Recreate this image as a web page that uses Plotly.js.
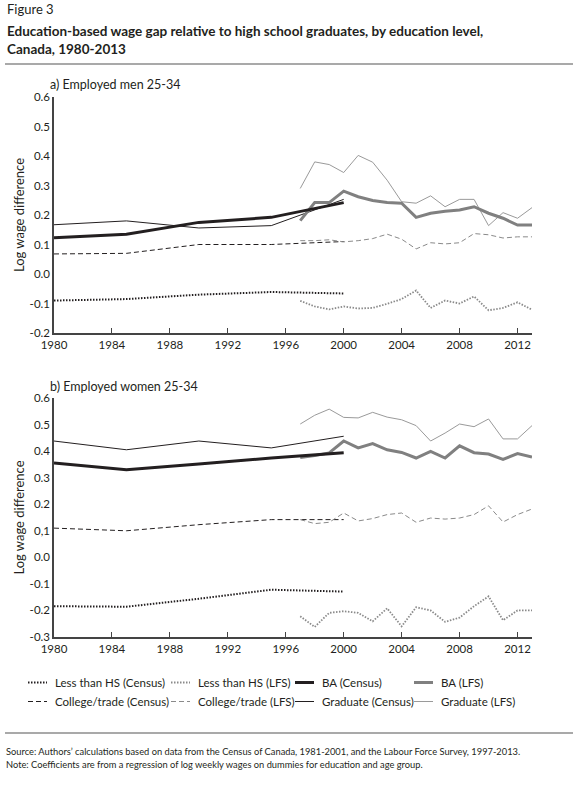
<!DOCTYPE html>
<html>
<head>
<meta charset="utf-8">
<script src="https://cdn.plot.ly/plotly-3.0.1.min.js"></script>
<style>
  html, body { margin: 0; padding: 0; background: #fff; }
  #graph { width: 586px; height: 785px; }
</style>
</head>
<body>
<div id="graph"></div>
<script>
// census years (income year) and LFS years
const censusYears = [1980, 1985, 1990, 1995, 2000];
const lfsYears = [1997, 1998, 1999, 2000, 2001, 2002, 2003, 2004, 2005,
                  2006, 2007, 2008, 2009, 2010, 2011, 2012, 2013];

// a) men 25-34
const menLhsCensus = [-0.090, -0.085, -0.070, -0.061, -0.066];
const menCollegeCensus = [0.068, 0.070, 0.100, 0.100, 0.110];
const menBaCensus = [0.123, 0.135, 0.175, 0.192, 0.242];
const menGradCensus = [0.167, 0.180, 0.156, 0.164, 0.253];
const menLhsLfs = [-0.091, -0.110, -0.120, -0.110, -0.117, -0.115, -0.101, -0.085, -0.056,
                   -0.115, -0.090, -0.100, -0.076, -0.123, -0.115, -0.096, -0.121];
const menCollegeLfs = [0.113, 0.113, 0.116, 0.109, 0.113, 0.120, 0.135, 0.118, 0.085,
                       0.106, 0.102, 0.106, 0.137, 0.133, 0.122, 0.126, 0.126];
const menBaLfs = [0.181, 0.242, 0.242, 0.281, 0.262, 0.249, 0.242, 0.240, 0.192,
                  0.206, 0.213, 0.217, 0.228, 0.206, 0.189, 0.166, 0.166];
const menGradLfs = [0.290, 0.380, 0.371, 0.344, 0.402, 0.379, 0.318, 0.245, 0.240,
                    0.265, 0.228, 0.253, 0.253, 0.164, 0.208, 0.189, 0.225];

// b) women 25-34
const womenLhsCensus = [-0.184, -0.186, -0.156, -0.122, -0.129];
const womenCollegeCensus = [0.110, 0.100, 0.123, 0.142, 0.142];
const womenBaCensus = [0.355, 0.330, 0.351, 0.374, 0.394];
const womenGradCensus = [0.438, 0.405, 0.438, 0.412, 0.456];
const womenLhsLfs = [-0.222, -0.262, -0.209, -0.203, -0.209, -0.241, -0.192, -0.260, -0.188,
                     -0.200, -0.243, -0.227, -0.184, -0.147, -0.237, -0.200, -0.200];
const womenCollegeLfs = [0.142, 0.127, 0.132, 0.167, 0.137, 0.146, 0.161, 0.167, 0.132,
                         0.148, 0.144, 0.148, 0.161, 0.194, 0.133, 0.161, 0.182];
const womenBaLfs = [0.376, 0.383, 0.393, 0.438, 0.412, 0.428, 0.405, 0.395, 0.374,
                    0.399, 0.374, 0.420, 0.394, 0.389, 0.369, 0.391, 0.378];
const womenGradLfs = [0.502, 0.535, 0.558, 0.527, 0.525, 0.546, 0.528, 0.518, 0.496,
                      0.438, 0.468, 0.502, 0.492, 0.521, 0.446, 0.446, 0.496];

const xTicks = [1980, 1984, 1988, 1992, 1996, 2000, 2004, 2008, 2012];
const menYTicks = [-0.2, -0.1, 0.0, 0.1, 0.2, 0.3, 0.4, 0.5, 0.6];
const menYLabels = ["-0.2", "-0.1", "0.0", "0.1", "0.2", "0.3", "0.4", "0.5", "0.6"];
const womenYTicks = [-0.3, -0.2, -0.1, 0.0, 0.1, 0.2, 0.3, 0.4, 0.5, 0.6];
const womenYLabels = ["-0.3", "-0.2", "-0.1", "0.0", "0,1", "0.2", "0.3", "0.4", "0.5", "0.6"];

const W = 586, H = 785;
const px = (x) => x / W;
const py = (y) => 1 - y / H;

const FONT = "Lato, 'Open Sans', sans-serif";
const TXT = "#231f20";

// series styles: name, line style, legend column
const styles = {
  lhsCensus: { name: "Less than HS (Census)", line: { color: "#231f20", width: 2, dash: "1.5px,1.5px" }, legend: "legend" },
  collegeCensus: { name: "College/trade (Census)", line: { color: "#231f20", width: 1, dash: "5px,3px" }, legend: "legend" },
  lhsLfs: { name: "Less than HS (LFS)", line: { color: "#8a8a8a", width: 1.8, dash: "1.5px,1.5px" }, legend: "legend2" },
  collegeLfs: { name: "College/trade (LFS)", line: { color: "#8a8a8a", width: 1, dash: "5px,3px" }, legend: "legend2" },
  baCensus: { name: "BA (Census)", line: { color: "#231f20", width: 3 }, legend: "legend3" },
  gradCensus: { name: "Graduate (Census)", line: { color: "#231f20", width: 1 }, legend: "legend3" },
  baLfs: { name: "BA (LFS)", line: { color: "#808080", width: 3 }, legend: "legend4" },
  gradLfs: { name: "Graduate (LFS)", line: { color: "#9a9a9a", width: 1 }, legend: "legend4" },
};

function mk(key, x, y, yaxis, showlegend) {
  const s = styles[key];
  return {
    type: "scatter", mode: "lines", x: x, y: y,
    name: s.name, line: s.line, legend: s.legend,
    xaxis: yaxis === "y" ? "x" : "x2", yaxis: yaxis,
    showlegend: showlegend, hoverinfo: "x+y+name",
  };
}

const traces = [
  mk("lhsCensus", censusYears, menLhsCensus, "y", true),
  mk("collegeCensus", censusYears, menCollegeCensus, "y", true),
  mk("lhsLfs", lfsYears, menLhsLfs, "y", true),
  mk("collegeLfs", lfsYears, menCollegeLfs, "y", true),
  mk("gradCensus", censusYears, menGradCensus, "y", false),
  mk("gradLfs", lfsYears, menGradLfs, "y", false),
  mk("baLfs", lfsYears, menBaLfs, "y", false),
  mk("baCensus", censusYears, menBaCensus, "y", false),

  mk("lhsCensus", censusYears, womenLhsCensus, "y2", false),
  mk("collegeCensus", censusYears, womenCollegeCensus, "y2", false),
  mk("lhsLfs", lfsYears, womenLhsLfs, "y2", false),
  mk("collegeLfs", lfsYears, womenCollegeLfs, "y2", false),
  mk("gradCensus", censusYears, womenGradCensus, "y2", false),
  mk("gradLfs", lfsYears, womenGradLfs, "y2", false),
  mk("baLfs", lfsYears, womenBaLfs, "y2", false),
  mk("baCensus", censusYears, womenBaCensus, "y2", false),

  // legend-only entries (BA first in each column)
  Object.assign(mk("baCensus", [null], [null], "y", true), { hoverinfo: "skip" }),
  Object.assign(mk("gradCensus", [null], [null], "y", true), { hoverinfo: "skip" }),
  Object.assign(mk("baLfs", [null], [null], "y", true), { hoverinfo: "skip" }),
  Object.assign(mk("gradLfs", [null], [null], "y", true), { hoverinfo: "skip" }),
];

const xAxisBase = {
  range: [1980, 2013],
  tickvals: xTicks,
  ticks: "inside", ticklen: 5, tickcolor: "#444", tickwidth: 1,
  showline: true, linecolor: "#444", linewidth: 1.5,
  showgrid: false, zeroline: false,
  tickfont: { size: 11.5, color: TXT, family: FONT },
  domain: [px(54), px(532)],
  fixedrange: true,
};
const yAxisBase = {
  ticks: "", showline: true, linecolor: "#444", linewidth: 1.5,
  showgrid: false, zeroline: false,
  tickfont: { size: 11.5, color: TXT, family: FONT },
  title: { text: "Log wage difference", font: { size: 13, color: TXT, family: FONT }, standoff: 2 },
  fixedrange: true,
};

const legendBase = {
  orientation: "v", bgcolor: "rgba(0,0,0,0)",
  font: { size: 11.5, color: TXT, family: FONT },
  xanchor: "left", yanchor: "top", y: py(668),
  itemwidth: 30, tracegroupgap: 0,
};

const layout = {
  width: W, height: H,
  margin: { l: 0, r: 0, t: 0, b: 0 },
  paper_bgcolor: "#fff", plot_bgcolor: "#fff",
  font: { family: FONT, color: TXT },
  xaxis: Object.assign({}, xAxisBase, { anchor: "y" }),
  yaxis: Object.assign({}, yAxisBase, {
    range: [-0.2, 0.6], tickvals: menYTicks, ticktext: menYLabels,
    domain: [py(333), py(97)], anchor: "x",
  }),
  xaxis2: Object.assign({}, xAxisBase, { anchor: "y2" }),
  yaxis2: Object.assign({}, yAxisBase, {
    range: [-0.3, 0.6], tickvals: womenYTicks, ticktext: womenYLabels,
    domain: [py(637), py(398)], anchor: "x2",
  }),
  legend: Object.assign({}, legendBase, { x: px(15) }),
  legend2: Object.assign({}, legendBase, { x: px(158) }),
  legend3: Object.assign({}, legendBase, { x: px(282) }),
  legend4: Object.assign({}, legendBase, { x: px(401) }),
  showlegend: true,
  shapes: [
    { type: "line", xref: "paper", yref: "paper", x0: px(5), x1: px(573), y0: py(64), y1: py(64),
      line: { color: "#8c8c8c", width: 1.5 } },
    { type: "line", xref: "paper", yref: "paper", x0: px(5), x1: px(573), y0: py(733), y1: py(733),
      line: { color: "#8c8c8c", width: 1.5 } },
  ],
  annotations: [
    { text: "Figure 3", x: px(5), y: py(9), xref: "paper", yref: "paper", xanchor: "left", yanchor: "middle",
      showarrow: false, font: { size: 13, color: TXT, family: FONT } },
    { text: "<b>Education-based wage gap relative to high school graduates, by education level,</b>",
      x: px(5), y: py(31), xref: "paper", yref: "paper", xanchor: "left", yanchor: "middle",
      showarrow: false, font: { size: 13.5, color: TXT, family: FONT } },
    { text: "<b>Canada, 1980-2013</b>",
      x: px(5), y: py(49), xref: "paper", yref: "paper", xanchor: "left", yanchor: "middle",
      showarrow: false, font: { size: 13.5, color: TXT, family: FONT } },
    { text: "a) Employed men 25-34", x: px(48), y: py(85), xref: "paper", yref: "paper",
      xanchor: "left", yanchor: "middle", showarrow: false, font: { size: 12.5, color: TXT, family: FONT } },
    { text: "b) Employed women 25-34", x: px(48), y: py(386), xref: "paper", yref: "paper",
      xanchor: "left", yanchor: "middle", showarrow: false, font: { size: 12.5, color: TXT, family: FONT } },
    { text: "Source: Authors\u2019 calculations based on data from the Census of Canada, 1981-2001, and the Labour Force Survey, 1997-2013.",
      x: px(4), y: py(751), xref: "paper", yref: "paper", xanchor: "left", yanchor: "middle",
      showarrow: false, font: { size: 9.3, color: TXT, family: FONT } },
    { text: "Note: Coefficients are from a regression of log weekly wages on dummies for education and age group.",
      x: px(4), y: py(764), xref: "paper", yref: "paper", xanchor: "left", yanchor: "middle",
      showarrow: false, font: { size: 9.3, color: TXT, family: FONT } },
  ],
};

// where each legend column's label text starts in the printed figure
const legendTextLeft = {
  legend: ["Less than HS (Census)", 55],
  legend2: ["Less than HS (LFS)", 198],
  legend3: ["BA (Census)", 322],
  legend4: ["BA (LFS)", 441],
};

// the printed legend uses short line samples: trim Plotly's 30px ones to ~19px,
// ending a few px before the label text
function shortenLegendLines() {
  document.querySelectorAll("g.traces").forEach((item) => {
    const txt = item.querySelector("text.legendtext");
    const tx = txt ? (parseFloat(txt.getAttribute("x")) || 40) : 40;
    item.querySelectorAll(".legendlines path").forEach((p) => {
      const d = "M" + (tx - 27) + ",0h19";
      if (p.getAttribute("d") !== d) p.setAttribute("d", d);
    });
  });
}

// nudge each legend so its labels start where the printed ones do
function alignLegends(gd) {
  const texts = Array.from(document.querySelectorAll("text.legendtext"));
  const upd = {};
  Object.keys(legendTextLeft).forEach((id) => {
    const [name, target] = legendTextLeft[id];
    const t = texts.find((el) => el.textContent === name);
    if (!t) return;
    const dx = target - t.getBoundingClientRect().left;
    if (Math.abs(dx) > 0.5) upd[id + ".x"] = gd.layout[id].x + dx / W;
  });
  return Object.keys(upd).length ? Plotly.relayout(gd, upd) : Promise.resolve();
}

const gd = document.getElementById("graph");
gd.on && null;
Plotly.newPlot(gd, traces, layout, { displayModeBar: false })
  .then(() => {
    gd.on("plotly_afterplot", shortenLegendLines);
    return alignLegends(gd);
  })
  .then(() => {
    shortenLegendLines();
    let n = 0;
    const timer = setInterval(() => {
      shortenLegendLines();
      if (++n > 40) clearInterval(timer);
    }, 25);
  });
</script>
</body>
</html>
